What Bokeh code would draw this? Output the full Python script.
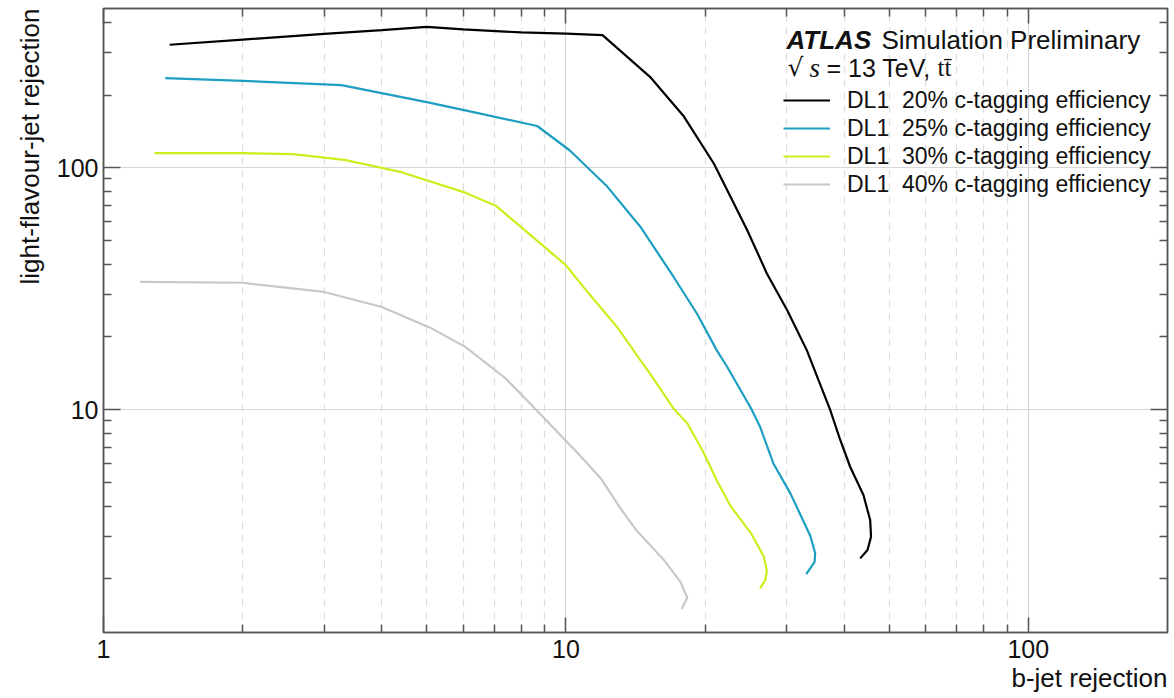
from bokeh.plotting import figure
from bokeh.models import (FixedTicker, LogAxis, Label, Legend, LegendItem,
                          NumeralTickFormatter, Range1d, Title)
from bokeh.embed import file_html
from bokeh.resources import INLINE

# ---- data (b-jet rejection, light-flavour-jet rejection) ----
x_20 = [1.39, 2.0, 3.0, 4.0, 5.0, 6.0, 8.0, 10.0, 12.0, 15.2, 18.0, 20.9, 22.7,
        24.7, 27.2, 30.1, 33.2, 37.3, 39.2, 41.2, 44.0, 45.5, 45.7, 44.9, 43.3]
y_20 = [323, 339, 358, 371, 383, 374, 363, 359, 354, 238, 163, 104, 76,
        55, 36.6, 25.8, 17.6, 9.97, 7.5, 5.8, 4.44, 3.5, 2.99, 2.63, 2.43]

x_25 = [1.36, 2.0, 3.27, 5.0, 6.06, 8.67, 10.2, 12.3, 14.5, 17.1, 19.2, 21.2,
        22.3, 25.1, 26.3, 28.1, 30.6, 33.8, 34.6, 34.5, 33.1]
y_25 = [235, 229, 220, 187, 173, 149, 118, 83.5, 57, 35.4, 25, 17.6,
        15.1, 10.2, 8.5, 6.0, 4.5, 3.0, 2.55, 2.35, 2.09]

x_30 = [1.29, 2.0, 2.57, 3.32, 4.41, 6.06, 7.07, 9.0, 10.0, 11.2, 12.9, 14.5,
        15.2, 17.1, 18.3, 19.9, 21.2, 22.7, 25.1, 26.8, 27.2, 27.0, 26.3]
y_30 = [115, 115, 114, 108, 96, 79, 69.5, 47, 39.6, 30.3, 22, 16,
        14.1, 10.1, 8.8, 6.6, 5.1, 4.0, 3.1, 2.47, 2.16, 1.98, 1.83]

x_40 = [1.2, 2.0, 3.0, 4.0, 5.1, 6.06, 7.4, 8.8, 10.7, 11.9, 13.1, 14.25,
        16.3, 17.7, 18.3, 17.8]
y_40 = [33.8, 33.5, 30.7, 26.6, 21.8, 18.2, 13.5, 9.6, 6.5, 5.2, 3.93, 3.15,
        2.39, 1.94, 1.67, 1.5]

labels = ["DL1  20% c-tagging efficiency", "DL1  25% c-tagging efficiency",
          "DL1  30% c-tagging efficiency", "DL1  40% c-tagging efficiency"]
colors = ["#000000", "#1c9fc1", "#c9f01e", "#c8c8c8"]

x_major = [1, 10, 100]
x_minor = [2, 3, 4, 5, 6, 7, 8, 9, 20, 30, 40, 50, 60, 70, 80, 90]
y_major = [10, 100]
y_minor = [2, 3, 4, 5, 6, 7, 8, 9, 20, 30, 40, 50, 60, 70, 80, 90, 200, 300, 400]

FONT = "Liberation Sans"
AXC = "#555555"

p = figure(x_axis_type="log", y_axis_type="log",
           x_range=Range1d(1, 200), y_range=Range1d(1.2, 456),
           frame_width=1064, frame_height=624,
           min_border_left=103, min_border_right=7, min_border_top=8,
           min_border_bottom=66,
           output_backend="svg", toolbar_location=None)
p.outline_line_color = AXC
p.outline_line_width = 1.5
p.background_fill_color = "white"

# grids
p.xgrid.ticker = FixedTicker(ticks=[10, 100], minor_ticks=x_minor)
p.xgrid.grid_line_color = "#d6d6d6"
p.xgrid.grid_line_width = 1.2
p.xgrid.minor_grid_line_color = "#dcdcdc"
p.xgrid.minor_grid_line_width = 1.2
p.xgrid.minor_grid_line_dash = "7 6"
p.ygrid.ticker = FixedTicker(ticks=[10, 100])
p.ygrid.grid_line_color = "#d6d6d6"
p.ygrid.grid_line_width = 1.2


def style_axis(ax, major_len, show_labels):
    ax.major_tick_in = major_len
    ax.major_tick_out = 0
    ax.minor_tick_in = 8
    ax.minor_tick_out = 0
    ax.axis_line_color = AXC
    ax.axis_line_width = 1.5
    ax.major_tick_line_color = AXC
    ax.major_tick_line_width = 1.5
    ax.minor_tick_line_color = AXC
    ax.minor_tick_line_width = 1.5
    ax.major_label_text_font = FONT
    ax.major_label_text_color = "#111111"
    if show_labels:
        ax.major_label_text_font_size = "25px"
    else:
        ax.major_label_text_font_size = "1px"
        ax.major_label_text_alpha = 0
        ax.major_label_standoff = 0


xa = p.xaxis[0]
xa.ticker = FixedTicker(ticks=x_major, minor_ticks=x_minor)
xa.formatter = NumeralTickFormatter(format="0")
style_axis(xa, 15, True)
xa.major_label_standoff = 7

ya = p.yaxis[0]
ya.ticker = FixedTicker(ticks=y_major, minor_ticks=y_minor)
ya.formatter = NumeralTickFormatter(format="0")
style_axis(ya, 17, True)
ya.major_label_standoff = 5

xt = LogAxis(ticker=FixedTicker(ticks=x_major, minor_ticks=x_minor))
style_axis(xt, 15, False)
p.add_layout(xt, "above")
yr = LogAxis(ticker=FixedTicker(ticks=y_major, minor_ticks=y_minor))
style_axis(yr, 17, False)
p.add_layout(yr, "right")

# axis titles (ROOT style: flush with the axis end)
p.add_layout(Title(text="b-jet rejection", align="right", text_font=FONT,
                   text_font_size="26px", text_font_style="normal",
                   text_color="#111111", standoff=0), "below")
p.add_layout(Title(text="light-flavour-jet rejection", align="right",
                   text_font=FONT, text_font_size="26px",
                   text_font_style="normal", text_color="#111111",
                   standoff=18), "left")

# curves
items = []
for xs, ys, lab, col in zip([x_20, x_25, x_30, x_40], [y_20, y_25, y_30, y_40],
                            labels, colors):
    r = p.line(xs, ys, line_color=col, line_width=2.2)
    items.append(LegendItem(label=lab, renderers=[r]))

leg = Legend(items=items, location=(680, 434), padding=0, margin=0, spacing=0,
             glyph_width=47, glyph_height=28, label_height=28,
             label_standoff=17, label_text_font=FONT,
             label_text_font_size="23px", label_text_color="#111111",
             border_line_color=None, background_fill_alpha=0)
p.add_layout(leg)

# header texts
common = dict(x_units="screen", y_units="screen", text_color="#111111",
              text_baseline="alphabetic")
p.add_layout(Label(x=683, y=593, text="ATLAS", text_font=FONT,
                   text_font_style="bold italic", text_font_size="26px", **common))
p.add_layout(Label(x=778, y=593, text="Simulation Preliminary", text_font=FONT,
                   text_font_size="26px", **common))
p.add_layout(Label(x=684, y=565, text="\u221a", text_font="DejaVu Sans",
                   text_font_size="25px", **common))
p.add_layout(Label(x=706, y=565, text="s", text_font="Liberation Serif",
                   text_font_style="italic", text_font_size="27px", **common))
p.add_layout(Label(x=723, y=565, text="= 13 TeV,", text_font=FONT,
                   text_font_size="25px", **common))
p.add_layout(Label(x=834, y=565, text="tt\u0304", text_font="Liberation Serif",
                   text_font_size="25px", **common))

open("out.html", "w").write(file_html(p, INLINE))
